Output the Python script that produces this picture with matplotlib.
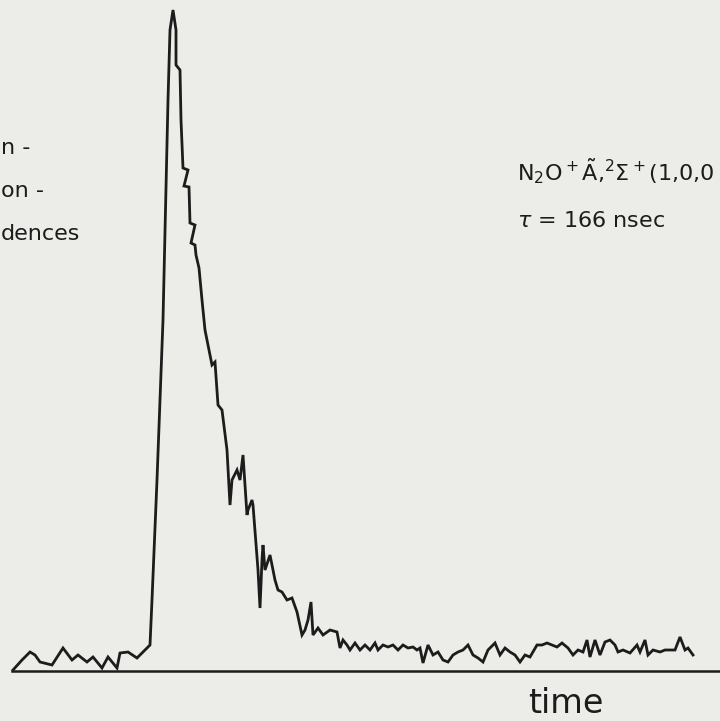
import numpy as np
import matplotlib
matplotlib.use('Agg')
import matplotlib.pyplot as plt

# ---------------------------------------------------------
# Decay curve
# time in channels, counts above the baseline (arbitrary units)
# ---------------------------------------------------------
time = [13, 22, 30, 35, 40, 52, 63, 72, 78, 87, 93, 102, 108, 117, 120, 128, 137, 147, 150,
        152, 157, 163, 168, 170, 173, 176, 176, 180, 181, 183, 188, 184, 189, 190, 195, 191, 195,
        196, 199, 202, 205, 212, 215, 218, 222, 227, 230, 232, 237, 240, 243, 247, 248, 252, 253,
        258, 260, 262, 263, 265, 270, 275, 278, 282, 287, 292, 297, 302, 305, 308, 311, 313, 318,
        323, 330, 337, 340, 343, 347, 350, 355, 360, 365, 370, 375, 378, 383, 388, 393, 398, 403,
        408, 413, 417, 420, 423, 428, 433, 438, 443, 448, 453, 458, 463, 468, 473, 478, 483, 488,
        495, 500, 505, 510, 515, 520, 525, 530, 537, 542, 547, 552, 557, 562, 568, 573, 578, 583,
        587, 590, 595, 600, 605, 610, 615, 618, 623, 630, 637, 640, 645, 648, 653, 660, 665, 670,
        675, 680, 685, 688, 693]
counts = [1, 11, 19, 16, 9, 6, 23, 11, 16, 9, 14, 3, 14, 3, 18, 19, 13, 23, 26,
          71, 191, 351, 571, 641, 661, 641, 606, 601, 551, 503, 501, 485, 484, 448, 446, 428, 426,
          416, 403, 371, 341, 306, 309, 266, 261, 221, 166, 191, 201, 191, 216, 156, 161, 171, 166,
          101, 63, 111, 126, 101, 116, 91, 81, 79, 71, 73, 59, 36, 41, 51, 69, 36, 43,
          36, 41, 39, 23, 31, 26, 21, 28, 21, 26, 21, 28, 21, 26, 24, 26, 21, 26,
          23, 24, 21, 23, 8, 26, 16, 19, 11, 9, 16, 19, 21, 26, 16, 13, 9, 21,
          28, 16, 23, 19, 16, 9, 16, 14, 26, 26, 28, 26, 24, 28, 23, 16, 21, 19,
          31, 14, 31, 16, 29, 31, 26, 19, 21, 18, 26, 19, 31, 16, 21, 19, 21, 21,
          21, 34, 21, 23, 16]

label_left = ['n -', 'on -', 'dences']
label_state = r'N$_2$O$^+\tilde{\mathrm{A}}$,$^2\Sigma^+$(1,0,0'
label_tau = r'$\tau$ = 166 nsec'
label_time = 'time'

paper = '#ecece8'
ink = '#1c1c1c'

plt.rcParams['mathtext.fontset'] = 'dejavusans'
plt.rcParams['font.family'] = ['DejaVu Sans']

fig = plt.figure(figsize=(7.2, 7.21), dpi=100, facecolor=paper)
ax = fig.add_axes([0, 0, 1, 1])
ax.set_facecolor(paper)

ax.plot(time, counts, color=ink, lw=2.0, solid_joinstyle='miter')

ax.set_xlim(0, 720)
ax.set_ylim(-50, 671)

# only the time axis is drawn, no ticks
for side in ['top', 'left', 'right']:
    ax.spines[side].set_visible(False)
ax.spines['bottom'].set_position(('data', 0))
ax.spines['bottom'].set_bounds(12, 720)
ax.spines['bottom'].set_linewidth(1.8)
ax.spines['bottom'].set_color(ink)
ax.set_xticks([])
ax.set_yticks([])

# ---------------------------------------------------------
# Annotations
# ---------------------------------------------------------
for i, s in enumerate(label_left):
    ax.text(1, 517 - 43 * i, s, fontsize=16, color=ink, va='baseline', ha='left')

ax.text(517, 491, label_state, fontsize=16, color=ink, va='baseline', ha='left')
ax.text(517, 444, label_tau, fontsize=16, color=ink, va='baseline', ha='left')
ax.text(528, -42, label_time, fontsize=24, color=ink, va='baseline', ha='left')

fig.savefig('out.png', dpi=100, facecolor=paper)
